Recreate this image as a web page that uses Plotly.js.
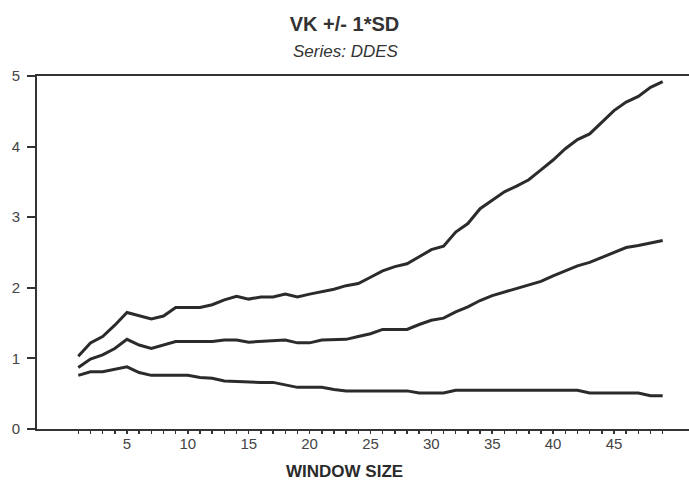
<!DOCTYPE html>
<html>
<head>
<meta charset="utf-8">
<script src="https://cdn.plot.ly/plotly-3.0.1.min.js"></script>
<style>html,body{margin:0;padding:0;background:#fff;}#chart{width:689px;height:483px;}</style>
</head>
<body>
<div id="chart"></div>
<script>
const windowSize = [1,2,3,4,5,6,7,8,9,10,11,12,13,14,15,16,17,18,19,20,21,22,23,24,25,26,27,28,29,30,31,32,33,34,35,36,37,38,39,40,41,42,43,44,45,46,47,48,49];
const vkPlusSD = [1.03,1.22,1.31,1.47,1.65,1.60,1.56,1.60,1.72,1.72,1.72,1.76,1.83,1.88,1.84,1.87,1.87,1.91,1.87,1.91,1.94,1.98,2.03,2.06,2.15,2.24,2.30,2.34,2.44,2.54,2.59,2.79,2.91,3.12,3.24,3.36,3.44,3.53,3.67,3.81,3.97,4.10,4.18,4.34,4.51,4.63,4.71,4.84,4.92];
const vkMean = [0.87,0.99,1.05,1.14,1.27,1.19,1.14,1.19,1.24,1.24,1.24,1.24,1.26,1.26,1.23,1.24,1.26,1.26,1.22,1.22,1.26,1.26,1.27,1.31,1.35,1.41,1.41,1.41,1.48,1.54,1.57,1.66,1.73,1.82,1.89,1.94,2.00,2.04,2.09,2.17,2.24,2.31,2.36,2.43,2.51,2.57,2.60,2.64,2.67];
const vkMinusSD = [0.76,0.81,0.81,0.85,0.88,0.80,0.76,0.76,0.76,0.76,0.73,0.72,0.68,0.67,0.66,0.66,0.66,0.62,0.59,0.59,0.59,0.56,0.54,0.54,0.54,0.54,0.54,0.54,0.51,0.51,0.51,0.55,0.55,0.55,0.55,0.55,0.55,0.55,0.55,0.55,0.55,0.55,0.51,0.51,0.51,0.51,0.51,0.47,0.47];
const xTickVals = windowSize;
const xTickText = ["","","","","5","","","","","10","","","","","15","","","","","20","","","","","25","","","","","30","","","","","35","","","","","40","","","","","45","","","",""];
const yTickVals = [0,1,2,3,4,5];
const yTickText = ["0","1","2","3","4","5"];

const lineStyle = {color:'#2b2b2b', width:3};
const traces = [vkPlusSD, vkMean, vkMinusSD].map(v => ({
  x: windowSize, y: v, type:'scatter', mode:'lines', line: lineStyle, hoverinfo:'skip'
}));

const font = "'Liberation Sans', Arial, Helvetica, sans-serif";
const layout = {
  width: 689, height: 483,
  margin: {l:37, r:0, t:76, b:54, pad:0},
  paper_bgcolor:'#fff', plot_bgcolor:'#fff',
  showlegend:false,
  font:{family:font, color:'#3a3a3a', size:15},
  title:{text:'<b>VK +/- 1*SD</b>', x:0.5, xref:'container', xanchor:'center',
         y:1-23.5/483, yref:'container', yanchor:'middle',
         font:{family:font, size:20, color:'#333'}},
  xaxis:{range:[-2.39,51.16], tickmode:'array', tickvals:xTickVals, ticktext:xTickText,
         ticks:'outside', ticklen:3, tickwidth:1.5, tickcolor:'#333',
         showline:true, linewidth:2, linecolor:'#333', mirror:true,
         showgrid:false, zeroline:false, tickfont:{size:15, color:'#444'},
         ticklabelstandoff:-3, fixedrange:true},
  yaxis:{range:[0,5], tickmode:'array', tickvals:yTickVals, ticktext:yTickText,
         ticks:'outside', ticklen:8, tickwidth:2, tickcolor:'#333',
         showline:true, linewidth:2, linecolor:'#333', mirror:false,
         showgrid:false, zeroline:false, tickfont:{size:15, color:'#444'},
         ticklabelstandoff:4, fixedrange:true},
  annotations:[
    {text:'<i>Series: DDES</i>', xref:'paper', yref:'paper', x:(345.5-37)/652, y:(429-51.7)/353,
     xanchor:'center', yanchor:'middle', showarrow:false, font:{family:font, size:17, color:'#333'}},
    {text:'<b>WINDOW SIZE</b>', xref:'paper', yref:'paper', x:(344-37)/652, y:(429-471.7)/353,
     xanchor:'center', yanchor:'middle', showarrow:false, font:{family:font, size:17, color:'#2a2a2a'}}
  ]
};
Plotly.newPlot('chart', traces, layout, {displayModeBar:false, staticPlot:true});
</script>
</body>
</html>
